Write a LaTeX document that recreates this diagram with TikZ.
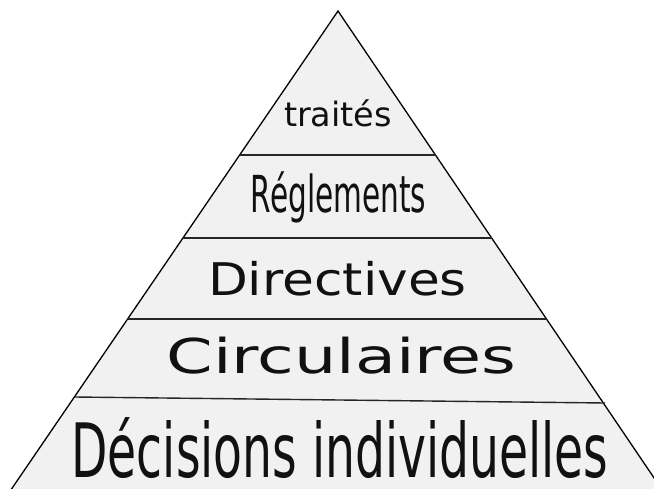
\documentclass[tikz,border=0pt]{standalone}
\usepackage{fontspec}
\setmainfont{DejaVu Sans}
\definecolor{pyrfill}{HTML}{F1F1F1}
\definecolor{pyrtext}{HTML}{111111}
\newcommand{\tiertext}[3]{\fontsize{#1}{#1}\selectfont\scalebox{#2}[1]{#3}}

\begin{document}
\begin{tikzpicture}[x=1pt,y=-1pt,
  tier/.style={anchor=base,inner sep=0pt,text=pyrtext}]
\useasboundingbox (0,0) rectangle (654,488);
\clip (0,0) rectangle (654,488);
% corners
\coordinate (apex) at (338,11);
\coordinate (bl) at (4,500);
\coordinate (br) at (669,500);
% pyramid
\draw[fill=pyrfill,line width=1.3pt,line join=miter] (apex) -- (br) -- (bl) -- cycle;
% tier lines
\draw[line width=1.4pt,draw=black!85] (240,155) -- (436,155);
\draw[line width=1.4pt,draw=black!85] (183,238) -- (492,238);
\draw[line width=1.4pt,draw=black!85] (128,319) -- (547,319);
\draw[line width=1.4pt,draw=black!85] (75,397) -- (605,403);
% labels
\node[tier] (t1) at (338,126) {\tiertext{33.5}{1}{traités}};
\node[tier] (t2) at (338.5,212) {\tiertext{51}{0.58}{Réglements}};
\node[tier] (t3) at (337.5,295) {\tiertext{45}{1.15}{Directives}};
\node[tier] (t4) at (341.5,373) {\tiertext{48}{1.39}{Circulaires}};
\node[tier] (t5) at (340,477) {\tiertext{75}{0.63}{Décisions individuelles}};
\end{tikzpicture}
\end{document}
